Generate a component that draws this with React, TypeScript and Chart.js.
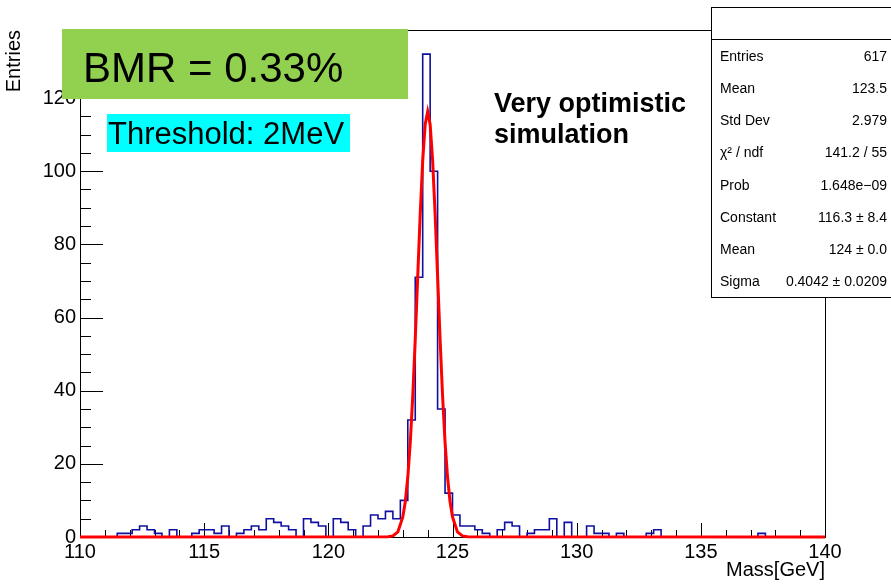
import React, { useEffect, useRef } from "react";
import { Chart, registerables } from "chart.js";

Chart.register(...registerables);

// ---- histogram data (Mass [GeV], 100 bins of 0.3 GeV from 110 to 140) ----
const binLow = 110;
const binWidth = 0.3;
const counts: number[] = [
  0, 0, 0, 0, 0, 1, 1, 2, 3, 2,
  1, 0, 2, 0, 0, 1, 2, 2, 1, 3,
  0, 1, 2, 3, 2, 5, 4, 3, 2, 0,
  5, 4, 3, 0, 5, 4, 2, 0, 3, 6,
  5, 7, 5, 10, 32, 71, 132, 100, 35, 12,
  6, 3, 3, 2, 1, 0, 2, 4, 3, 0,
  1, 2, 2, 5, 0, 4, 0, 0, 3, 1,
  1, 0, 1, 0, 0, 0, 1, 2, 0, 0,
  0, 0, 0, 0, 0, 0, 0, 0, 0, 0,
  0, 1, 0, 0, 0, 0, 0, 0, 0, 0,
];

// ---- Gaussian fit curve ----
const fitX: number[] = [
  110, 122.4, 122.6, 122.8, 123.0, 123.1, 123.2, 123.3, 123.4, 123.5, 123.6,
  123.7, 123.8, 123.9, 124.0, 124.1, 124.2, 124.3, 124.4, 124.5, 124.6, 124.7,
  124.8, 124.9, 125.0, 125.2, 125.4, 125.6, 140,
];
const fitY: number[] = [
  0, 0.05, 0.3, 1.4, 5.5, 9.7, 16.4, 25.9, 38.6, 54.1, 71.3,
  88.3, 102.9, 112.8, 116.3, 112.8, 102.9, 88.3, 71.3, 54.1, 38.6, 25.9,
  16.4, 9.7, 5.5, 1.4, 0.3, 0.05, 0,
];

// ---- axes ----
const xMin = 110;
const xMax = 140;
const xMajorStep = 5;
const xMinorStep = 1;
const yMin = 0;
const yMax = 138.6;
const yMajorStep = 20;
const yMinorStep = 5;
const xTitle = "Mass[GeV]";
const yTitle = "Entries";

// ---- stats box ----
const statsLabels = ["Entries", "Mean", "Std Dev", "χ² / ndf", "Prob", "Constant", "Mean", "Sigma"];
const statsValues = ["617", "123.5", "2.979", "141.2 / 55", "1.648e−09", "116.3 ± 8.4", "124 ± 0.0", "0.4042 ± 0.0209"];

// ---- annotations ----
const bmrText = "BMR = 0.33%";
const thresholdText = "Threshold: 2MeV";
const noteLines = ["Very optimistic", "simulation"];

const FONT = "'Liberation Sans', Arial, Helvetica, sans-serif";

const isMultiple = (v: number, step: number) => Math.abs(v / step - Math.round(v / step)) < 1e-6;

const rootDecor = {
  id: "rootDecor",
  beforeDatasetsDraw(chart: any) {
    const { ctx, chartArea: a, scales } = chart;
    const xs = scales.x;
    const ys = scales.y;
    ctx.save();
    ctx.strokeStyle = "#000";
    ctx.lineWidth = 1;
    ctx.strokeRect(Math.round(a.left) + 0.5, Math.round(a.top) + 0.5, Math.round(a.right - a.left), Math.round(a.bottom - a.top));
    ctx.beginPath();
    for (let v = yMin; v <= yMax + 1e-6; v += yMinorStep) {
      const py = Math.round(ys.getPixelForValue(v)) + 0.5;
      const len = isMultiple(v, yMajorStep) ? 23 : 11;
      ctx.moveTo(a.left, py);
      ctx.lineTo(a.left + len, py);
    }
    for (let v = xMin; v <= xMax + 1e-6; v += xMinorStep) {
      const px = Math.round(xs.getPixelForValue(v)) + 0.5;
      const len = isMultiple(v, xMajorStep) ? 14 : 7;
      ctx.moveTo(px, a.bottom);
      ctx.lineTo(px, a.bottom - len);
    }
    ctx.stroke();
    ctx.restore();
  },
  afterDraw(chart: any) {
    const { ctx } = chart;
    ctx.save();
    // stats box
    ctx.fillStyle = "#fff";
    ctx.fillRect(711, 7, 200, 290);
    ctx.strokeStyle = "#000";
    ctx.lineWidth = 1;
    ctx.strokeRect(711.5, 7.5, 200, 290);
    ctx.beginPath();
    ctx.moveTo(711, 39.5);
    ctx.lineTo(891, 39.5);
    ctx.stroke();
    ctx.fillStyle = "#000";
    ctx.font = `14px ${FONT}`;
    ctx.textBaseline = "middle";
    statsLabels.forEach((lab, i) => {
      const yy = 57 + i * 32.2;
      ctx.textAlign = "left";
      ctx.fillText(lab, 720, yy);
      ctx.textAlign = "right";
      ctx.fillText(statsValues[i], 887, yy);
    });
    // green BMR box
    ctx.fillStyle = "#92D050";
    ctx.fillRect(62, 29, 346, 70);
    ctx.fillStyle = "#000";
    ctx.textAlign = "left";
    ctx.textBaseline = "alphabetic";
    ctx.font = `42px ${FONT}`;
    ctx.fillText(bmrText, 83, 82);
    // cyan threshold box
    ctx.fillStyle = "#00FFFF";
    ctx.fillRect(107, 114, 243, 38);
    ctx.fillStyle = "#000";
    ctx.font = `31px ${FONT}`;
    ctx.fillText(thresholdText, 108, 144);
    // note
    ctx.font = `bold 27px ${FONT}`;
    ctx.fillText(noteLines[0], 494, 112);
    ctx.fillText(noteLines[1], 494, 143);
    ctx.restore();
  },
};

export default function App() {
  const ref = useRef<HTMLCanvasElement | null>(null);

  useEffect(() => {
    if (!ref.current) return;
    const histPts = counts.map((c, i) => ({ x: binLow + i * binWidth, y: c }));
    histPts.push({ x: binLow + counts.length * binWidth, y: counts[counts.length - 1] });
    const fitPts = fitX.map((x, i) => ({ x, y: fitY[i] }));

    const chart = new Chart(ref.current, {
      type: "line",
      data: {
        datasets: [
          {
            label: "fit",
            data: fitPts,
            borderColor: "#ff0000",
            borderWidth: 3,
            pointRadius: 0,
            tension: 0,
            fill: false,
            clip: 6,
            order: 0,
          },
          {
            label: "hist",
            data: histPts,
            borderColor: "#1010a0",
            borderWidth: 1.6,
            pointRadius: 0,
            stepped: "before",
            fill: false,
            clip: 4,
            order: 1,
          },
        ],
      },
      options: {
        responsive: false,
        devicePixelRatio: 1,
        animation: false,
        events: [],
        layout: { padding: { top: 30, right: 66, left: 0, bottom: 0 } },
        plugins: { legend: { display: false }, tooltip: { enabled: false } },
        scales: {
          x: {
            type: "linear",
            min: xMin,
            max: xMax,
            border: { display: false },
            grid: { display: false, drawTicks: false },
            ticks: { stepSize: xMajorStep, color: "#000", font: { family: FONT, size: 20 }, padding: 3, maxRotation: 0, autoSkip: false },
            title: { display: true, text: xTitle, align: "end", color: "#000", font: { family: FONT, size: 20 }, padding: { top: 0, bottom: 2 } },
            afterFit: (s: any) => { s.height = 47; },
          },
          y: {
            type: "linear",
            min: yMin,
            max: yMax,
            border: { display: false },
            grid: { display: false, drawTicks: false },
            ticks: { stepSize: yMajorStep, color: "#000", font: { family: FONT, size: 20 }, padding: 4 },
            afterBuildTicks: (s: any) => { s.ticks = s.ticks.filter((t: any) => isMultiple(t.value, yMajorStep)); },
            title: { display: true, text: yTitle, align: "end", color: "#000", font: { family: FONT, size: 20 }, padding: { top: 2, bottom: 0 } },
            afterFit: (s: any) => { s.width = 80; },
          },
        },
      },
      plugins: [rootDecor],
    } as any);
    return () => chart.destroy();
  }, []);

  return (
    <div style={{ position: "fixed", left: 0, top: 0, width: 891, height: 584, background: "#fff" }}>
      <canvas ref={ref} width={891} height={584} style={{ display: "block", width: 891, height: 584 }} />
    </div>
  );
}
